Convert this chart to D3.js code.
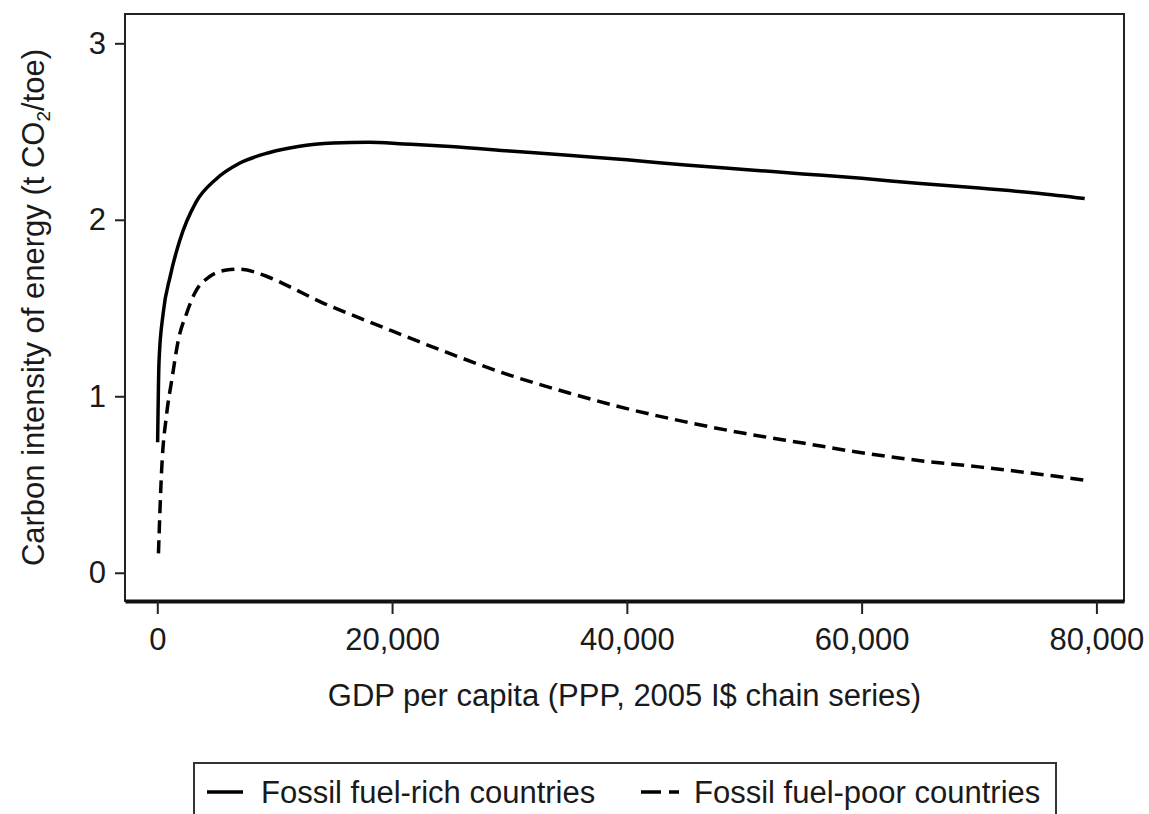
<!DOCTYPE html>
<html>
<head>
<meta charset="utf-8">
<script src="https://cdn.jsdelivr.net/npm/d3@7"></script>
<style>
  body { margin: 0; background: #fff; }
  text { font-family: "Liberation Sans", Arial, sans-serif; fill: #1a1a1a; }
</style>
</head>
<body>
<svg id="chart"></svg>
<script>
// GDP per capita (x) and carbon intensity (y)
const richGdp = [30, 150, 500, 1100, 1900, 3300, 5000, 7000, 9500, 12000, 15000, 18000, 21000, 25000, 30000, 35000, 40000, 45000, 50000, 55000, 60000, 65000, 70000, 75000, 79000]
const richVal = [0.74, 1.2, 1.47, 1.68, 1.88, 2.1, 2.23, 2.32, 2.38, 2.415, 2.435, 2.44, 2.43, 2.415, 2.39, 2.365, 2.34, 2.31, 2.285, 2.26, 2.235, 2.205, 2.18, 2.15, 2.12]
const poorGdp = [100, 370, 800, 1230, 1800, 2500, 3200, 4500, 5900, 7000, 9300, 11600, 13900, 17000, 20000, 25000, 30000, 35000, 40000, 45000, 50000, 55000, 60000, 65000, 70000, 75000, 79000]
const poorVal = [0.11, 0.58, 0.9, 1.09, 1.32, 1.47, 1.585, 1.68, 1.715, 1.72, 1.68, 1.61, 1.535, 1.45, 1.37, 1.24, 1.12, 1.02, 0.93, 0.855, 0.79, 0.735, 0.68, 0.635, 0.6, 0.56, 0.525]
const xTicks = [0, 20000, 40000, 60000, 80000]
const yTicks = [0, 1, 2, 3]
const seriesNames = ["Fossil fuel-rich countries", "Fossil fuel-poor countries"]

const W = 1149, H = 814
const margin = {top: 14, right: 25, bottom: 213, left: 125}
const fs = "31px"

const svg = d3.select("#chart").attr("width", W).attr("height", H)

const fx = d3.scaleLinear().domain([-2750, 82350]).range([margin.left, W - margin.right])
const fy = d3.scaleLinear().domain([-0.16, 3.166]).range([H - margin.bottom, margin.top])

// plot frame
svg.append("rect")
    .attr("x", margin.left).attr("y", margin.top)
    .attr("width", W - margin.right - margin.left)
    .attr("height", H - margin.bottom - margin.top)
    .attr("fill", "none").attr("stroke", "#222").attr("stroke-width", 2)

const xAxis = svg.append("g")
    .attr("transform", "translate(0," + (H - margin.bottom) + ")")
    .call(d3.axisBottom(fx).tickValues(xTicks).tickSize(13).tickSizeOuter(0).tickPadding(10)
        .tickFormat(d3.format(",")))
xAxis.select(".domain").attr("stroke", "#111").attr("stroke-width", 4)
xAxis.selectAll(".tick line").attr("stroke", "#222").attr("stroke-width", 2)
xAxis.selectAll("text").style("font-size", fs).attr("dy", "0.85em")

const yAxis = svg.append("g")
    .attr("transform", "translate(" + margin.left + ",0)")
    .call(d3.axisLeft(fy).tickValues(yTicks).tickSize(10).tickPadding(9).tickFormat(d3.format("d")))
yAxis.select(".domain").remove()
yAxis.selectAll(".tick line").attr("stroke", "#222").attr("stroke-width", 2)
yAxis.selectAll("text").style("font-size", fs)

const line = d3.line()
    .x(d => fx(d[0]))
    .y(d => fy(d[1]))
    .curve(d3.curveMonotoneX)

svg.append("path")
    .datum(d3.zip(richGdp, richVal))
    .attr("fill", "none").attr("stroke", "#000").attr("stroke-width", 3.5)
    .attr("d", line)

svg.append("path")
    .datum(d3.zip(poorGdp, poorVal))
    .attr("fill", "none").attr("stroke", "#000").attr("stroke-width", 3.5)
    .attr("stroke-dasharray", "13,7")
    .attr("d", line)

// axis titles
svg.append("text")
    .attr("x", (margin.left + W - margin.right) / 2)
    .attr("y", 706)
    .attr("text-anchor", "middle")
    .style("font-size", fs)
    .text("GDP per capita (PPP, 2005 I$ chain series)")

const yt = svg.append("text")
    .attr("transform", "translate(44," + ((margin.top + H - margin.bottom) / 2) + ") rotate(-90)")
    .attr("text-anchor", "middle")
    .style("font-size", fs)
yt.append("tspan").text("Carbon intensity of energy (t CO")
yt.append("tspan").text("2").style("font-size", "19px").attr("dy", 6)
yt.append("tspan").text("/toe)").attr("dy", -6)

// legend
const lg = svg.append("g")
lg.append("rect")
    .attr("x", 194).attr("y", 763).attr("width", 862).attr("height", 80)
    .attr("fill", "none").attr("stroke", "#333").attr("stroke-width", 2)

const items = [{x: 207, w: 36, tx: 261, dash: null}, {x: 641, w: 45, tx: 694, dash: "20,8,10,20"}]
items.forEach((it, i) => {
    lg.append("line")
        .attr("x1", it.x).attr("x2", it.x + it.w)
        .attr("y1", 792).attr("y2", 792)
        .attr("stroke", "#000").attr("stroke-width", 3.5)
        .attr("stroke-dasharray", it.dash)
    lg.append("text")
        .attr("x", it.tx).attr("y", 803)
        .style("font-size", fs)
        .text(seriesNames[i])
})
</script>
</body>
</html>
